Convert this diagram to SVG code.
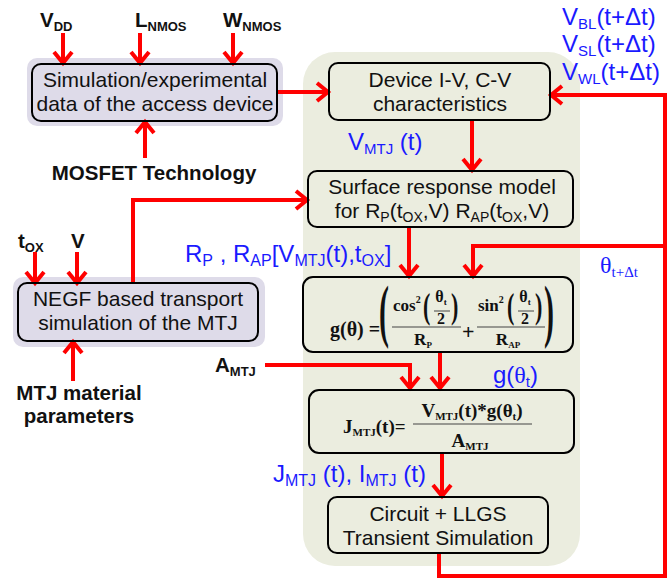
<svg xmlns="http://www.w3.org/2000/svg" width="667" height="583" viewBox="0 0 667 583">
<defs>
<marker id="ah" markerUnits="userSpaceOnUse" markerWidth="30" markerHeight="30" viewBox="-15 -15 30 30" refX="0" refY="0" orient="auto" overflow="visible">
<path d="M -11 -9 L 0 0 L -11 9" fill="none" stroke="#ff0000" stroke-width="4" stroke-linecap="butt" stroke-linejoin="miter"/>
</marker>
</defs>
<style>
.bg{stroke:none}
.box{fill:none;stroke:#000;stroke-width:2}
.t{font-family:"Liberation Sans",Arial,sans-serif;font-size:21px;fill:#111;text-anchor:middle}
.b{font-family:"Liberation Sans",Arial,sans-serif;font-size:20.5px;font-weight:bold;fill:#111}
.bl{font-family:"Liberation Sans",Arial,sans-serif;font-size:24px;fill:#1a1aff}
.m{font-family:"Liberation Serif","Times New Roman",serif;font-weight:bold;fill:#111}
.c{fill:none;stroke:#ff0000;stroke-width:4;marker-end:url(#ah)}
.n{fill:none;stroke:#ff0000;stroke-width:4}
</style>
<rect class="bg" x="303" y="52" width="277" height="514" rx="32" fill="#ebeddf"/>
<rect class="bg" x="27" y="58" width="256" height="68" rx="10" fill="#dedbe9"/>
<rect class="bg" x="13" y="277" width="252" height="70" rx="10" fill="#dedbe9"/>

<g id="connectors">
<line class="c" x1="63" y1="33" x2="63" y2="63"/>
<line class="c" x1="140" y1="33" x2="140" y2="63"/>
<line class="c" x1="233" y1="33" x2="233" y2="63"/>
<line class="c" x1="145" y1="158" x2="145" y2="122"/>
<line class="c" x1="35" y1="252" x2="35" y2="283"/>
<line class="c" x1="77" y1="252" x2="77" y2="283"/>
<line class="c" x1="73" y1="381" x2="73" y2="342"/>
<line class="c" x1="277" y1="92" x2="328" y2="92"/>
<polyline class="c" points="133,283 133,200 307,200"/>
<line class="c" x1="472" y1="120" x2="472" y2="170"/>
<line class="c" x1="409" y1="227" x2="409" y2="276"/>
<polyline class="c" points="665,95 665,95 551,95"/>
<line class="n" x1="665" y1="93" x2="665" y2="578"/>
<polyline class="c" points="665,246 473,246 473,276"/>
<polyline class="c" points="265,365 410,365 410,388"/>
<line class="c" x1="440" y1="352" x2="440" y2="388"/>
<line class="c" x1="442" y1="453" x2="442" y2="496"/>
<polyline class="n" points="439,553 439,576 667,576"/>
</g>

<g id="inputs-top">
<text class="b" x="40" y="27">V<tspan font-size="13" dy="4">DD</tspan></text>
<text class="b" x="135" y="27">L<tspan font-size="13" dy="4">NMOS</tspan></text>
<text class="b" x="223" y="27">W<tspan font-size="13" dy="4">NMOS</tspan></text>
</g>

<g id="access-device">
<rect class="box" x="32" y="64" width="245" height="57" rx="9"/>
<text class="t" x="155" y="87">Simulation/experimental</text>
<text class="t" x="155" y="111">data of the access device</text>
</g>

<g id="mosfet-tech">
<text class="b" x="154" y="180" text-anchor="middle">MOSFET Technology</text>
</g>

<g id="device-iv">
<rect class="box" x="329" y="63" width="221" height="57" rx="9"/>
<text class="t" x="440" y="87">Device I-V, C-V</text>
<text class="t" x="440" y="111">characteristics</text>
</g>

<g id="wl-labels">
<text class="bl" x="562" y="25">V<tspan font-size="15" dy="4">BL</tspan><tspan dy="-4">(t+Δt)</tspan></text>
<text class="bl" x="562" y="52">V<tspan font-size="15" dy="4">SL</tspan><tspan dy="-4">(t+Δt)</tspan></text>
<text class="bl" x="562" y="80">V<tspan font-size="15" dy="4">WL</tspan><tspan dy="-4">(t+Δt)</tspan></text>
</g>

<text class="bl" x="348" y="150" font-size="23">V<tspan font-size="15" dy="4">MTJ</tspan><tspan dy="-4"> (t)</tspan></text>

<g id="surface-model">
<rect class="box" x="308" y="171" width="265" height="56" rx="9"/>
<text class="t" x="442" y="194">Surface response model</text>
<text class="t" x="442" y="218">for R<tspan font-size="14" dy="4">P</tspan><tspan dy="-4">(t</tspan><tspan font-size="14" dy="4">OX</tspan><tspan dy="-4">,V) R</tspan><tspan font-size="14" dy="4">AP</tspan><tspan dy="-4">(t</tspan><tspan font-size="14" dy="4">OX</tspan><tspan dy="-4">,V)</tspan></text>
</g>

<g id="negf">
<rect class="box" x="18" y="283" width="240" height="58" rx="9"/>
<text class="t" x="138" y="306">NEGF based transport</text>
<text class="t" x="138" y="330">simulation of the MTJ</text>
</g>
<g id="inputs-negf">
<text class="b" x="18" y="248">t<tspan font-size="13" dy="4">OX</tspan></text>
<text class="b" x="71" y="248">V</text>
</g>
<g id="mtj-material">
<text class="b" x="79" y="400" text-anchor="middle">MTJ material</text>
<text class="b" x="79" y="423" text-anchor="middle">parameters</text>
</g>

<text class="bl" x="185" y="262">R<tspan font-size="16" dy="4">P</tspan><tspan dy="-4"> , R</tspan><tspan font-size="16" dy="4">AP</tspan><tspan dy="-4">[V</tspan><tspan font-size="16" dy="4">MTJ</tspan><tspan dy="-4">(t),t</tspan><tspan font-size="16" dy="4">OX</tspan><tspan dy="-4">]</tspan></text>

<text x="600" y="273" font-family="'Liberation Serif','Times New Roman',serif" font-size="24" fill="#1a1aff">θ<tspan font-size="15" dy="4">t+Δt</tspan></text>

<g id="g-theta">
<rect class="box" x="303" y="277" width="270" height="75" rx="10"/>
<text class="m" x="330" y="336" font-size="20">g(θ) =</text>
<text class="m" font-weight="normal" font-size="30" transform="translate(379,334) scale(1,2.3)">(</text>
<text class="m" font-weight="normal" font-size="30" transform="translate(544,334) scale(1,2.3)">)</text>
<text class="m" x="393" y="311" font-size="17">cos<tspan font-size="10" dy="-8">2</tspan></text>
<text class="m" font-weight="normal" font-size="22" transform="translate(423,318) scale(1,1.6)">(</text>
<text class="m" x="441" y="302" font-size="16" text-anchor="middle">θ<tspan font-size="9" dy="3">t</tspan></text>
<line x1="434" y1="311" x2="450" y2="311" stroke="#444" stroke-width="1"/>
<text class="m" x="441" y="324" font-size="16" text-anchor="middle">2</text>
<text class="m" font-weight="normal" font-size="22" transform="translate(451,318) scale(1,1.6)">)</text>
<line x1="392" y1="327" x2="461" y2="327" stroke="#444" stroke-width="1.2"/>
<text class="m" x="423" y="345" font-size="17" text-anchor="middle">R<tspan font-size="9" dy="3">P</tspan></text>
<text class="m" x="462" y="339" font-size="22">+</text>
<text class="m" x="478" y="311" font-size="17">sin<tspan font-size="10" dy="-8">2</tspan></text>
<text class="m" font-weight="normal" font-size="22" transform="translate(507,318) scale(1,1.6)">(</text>
<text class="m" x="525" y="302" font-size="16" text-anchor="middle">θ<tspan font-size="9" dy="3">t</tspan></text>
<line x1="518" y1="311" x2="534" y2="311" stroke="#444" stroke-width="1"/>
<text class="m" x="525" y="324" font-size="16" text-anchor="middle">2</text>
<text class="m" font-weight="normal" font-size="22" transform="translate(535,318) scale(1,1.6)">)</text>
<line x1="477" y1="327" x2="545" y2="327" stroke="#444" stroke-width="1.2"/>
<text class="m" x="508" y="345" font-size="17" text-anchor="middle">R<tspan font-size="9" dy="3">AP</tspan></text>
</g>

<text x="493" y="383" font-family="'Liberation Sans',Arial,sans-serif" font-size="24" fill="#1a1aff">g(<tspan font-family="'Liberation Serif','Times New Roman',serif">θ</tspan><tspan font-size="15" dy="4">t</tspan><tspan dy="-4">)</tspan></text>

<g id="j-mtj">
<rect class="box" x="309" y="390" width="265" height="63" rx="10"/>
<text class="m" x="343" y="433" font-size="19">J<tspan font-size="11" dy="3">MTJ</tspan><tspan dy="-3">(t)=</tspan></text>
<text class="m" x="472" y="417" font-size="19" text-anchor="middle">V<tspan font-size="11" dy="3">MTJ</tspan><tspan dy="-3">(t)*g(θ</tspan><tspan font-size="11" dy="3">t</tspan><tspan dy="-3">)</tspan></text>
<line x1="413" y1="424" x2="532" y2="424" stroke="#444" stroke-width="1.2"/>
<text class="m" x="470" y="447" font-size="19" text-anchor="middle">A<tspan font-size="11" dy="3">MTJ</tspan></text>
</g>

<text class="b" x="215" y="372">A<tspan font-size="13" dy="4">MTJ</tspan></text>

<text class="bl" x="273" y="482">J<tspan font-size="16" dy="4">MTJ</tspan><tspan dy="-4"> (t), I</tspan><tspan font-size="16" dy="4">MTJ</tspan><tspan dy="-4"> (t)</tspan></text>

<g id="circuit">
<rect class="box" x="328" y="497" width="220" height="56" rx="9"/>
<text class="t" x="438" y="521">Circuit + LLGS</text>
<text class="t" x="438" y="545">Transient Simulation</text>
</g>
</svg>
